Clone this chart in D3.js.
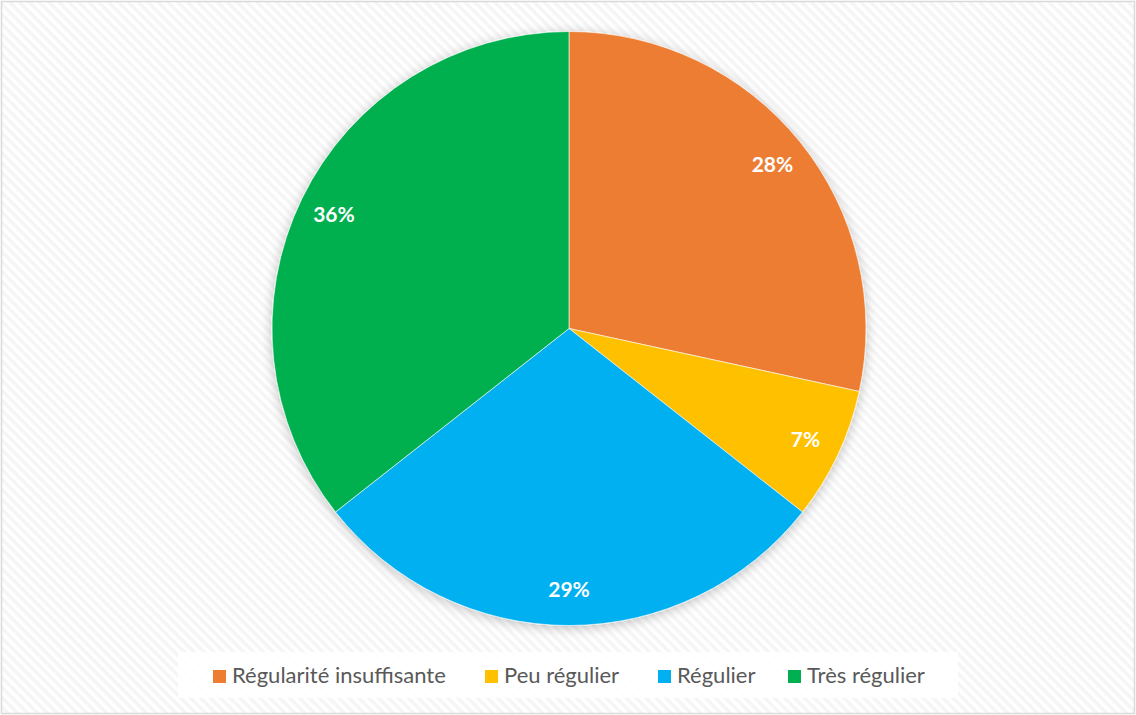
<!DOCTYPE html>
<html>
<head>
<meta charset="utf-8">
<script src="https://cdn.jsdelivr.net/npm/d3@7"></script>
<style>
  body { margin: 0; background: #fff; }
  svg { display: block; }
</style>
</head>
<body>
<svg width="1136" height="715"></svg>
<script>
// categories + shares, labels as shown
var categories = ["Régularité insuffisante", "Peu régulier", "Régulier", "Très régulier"];
var values = [28.4, 7.2, 28.8, 35.6];
var labels = ["28%", "7%", "29%", "36%"];
var colors = ["#ED7D31", "#FFC000", "#00B0F0", "#00B050"];

var svg = d3.select("svg"),
    width = +svg.attr("width"),
    height = +svg.attr("height");

var defs = svg.append("defs");

// light diagonal stripes of the chart area
var pat = defs.append("pattern")
    .attr("id", "stripes")
    .attr("patternUnits", "userSpaceOnUse")
    .attr("width", 7).attr("height", 7)
    .attr("patternTransform", "rotate(45)");
pat.append("rect").attr("width", 7).attr("height", 7).attr("fill", "#ffffff");
pat.append("rect").attr("width", 7).attr("height", 3.5).attr("fill", "#f5f5f5");

var shadow = defs.append("filter").attr("id", "shadow")
    .attr("x", "-10%").attr("y", "-10%").attr("width", "120%").attr("height", "120%");
shadow.append("feGaussianBlur").attr("in", "SourceAlpha").attr("stdDeviation", 6);
shadow.append("feOffset").attr("dx", 0).attr("dy", 2).attr("result", "b");
shadow.append("feComponentTransfer").append("feFuncA").attr("type", "linear").attr("slope", 0.25);
var mrg = shadow.append("feMerge");
mrg.append("feMergeNode");
mrg.append("feMergeNode").attr("in", "SourceGraphic");

svg.append("rect")
    .attr("x", 1.5).attr("y", 1.5)
    .attr("width", width - 3).attr("height", height - 3)
    .attr("fill", "url(#stripes)")
    .attr("stroke", "#d9d9d9")
    .attr("stroke-width", 1.5);

var cx = 569, cy = 328.5, r = 297;

var pie = d3.pie().sort(null).value(function(d) { return d; });
var arc = d3.arc().innerRadius(0).outerRadius(r);
var labelArc = d3.arc().innerRadius(r * 0.88).outerRadius(r * 0.88);

var g = svg.append("g")
    .attr("transform", "translate(" + cx + "," + cy + ")");

var arcs = pie(values);

g.append("g").attr("filter", "url(#shadow)")
  .selectAll("path")
  .data(arcs)
  .enter().append("path")
    .attr("d", arc)
    .attr("fill", function(d, i) { return colors[i]; })
    .attr("stroke", "#fff")
    .attr("stroke-width", 0.6);

g.selectAll(".lbl")
  .data(arcs)
  .enter().append("text")
    .attr("class", "lbl")
    .attr("transform", function(d) { return "translate(" + labelArc.centroid(d) + ")"; })
    .attr("text-anchor", "middle")
    .attr("dy", "0.35em")
    .style("font-family", "Lato, 'Open Sans', sans-serif")
    .style("font-weight", "bold")
    .style("font-size", "21px")
    .style("fill", "#fff")
    .text(function(d, i) { return labels[i]; });

// legend
var legend = svg.append("g");
legend.append("rect")
    .attr("x", 178).attr("y", 652)
    .attr("width", 780).attr("height", 46)
    .attr("fill", "#fff").attr("fill-opacity", 0.9);

var legendX = [213, 485, 658, 788];
var item = legend.selectAll(".item")
  .data(categories)
  .enter().append("g")
    .attr("class", "item")
    .attr("transform", function(d, i) { return "translate(" + legendX[i] + ",683)"; });

item.append("rect")
    .attr("x", 0).attr("y", -13)
    .attr("width", 13).attr("height", 13)
    .attr("fill", function(d, i) { return colors[i]; });

item.append("text")
    .attr("x", 19).attr("y", 0)
    .style("font-family", "Lato, 'Open Sans', sans-serif")
    .style("font-size", "22px")
    .style("fill", "#595959")
    .text(function(d) { return d; });
</script>
</body>
</html>
